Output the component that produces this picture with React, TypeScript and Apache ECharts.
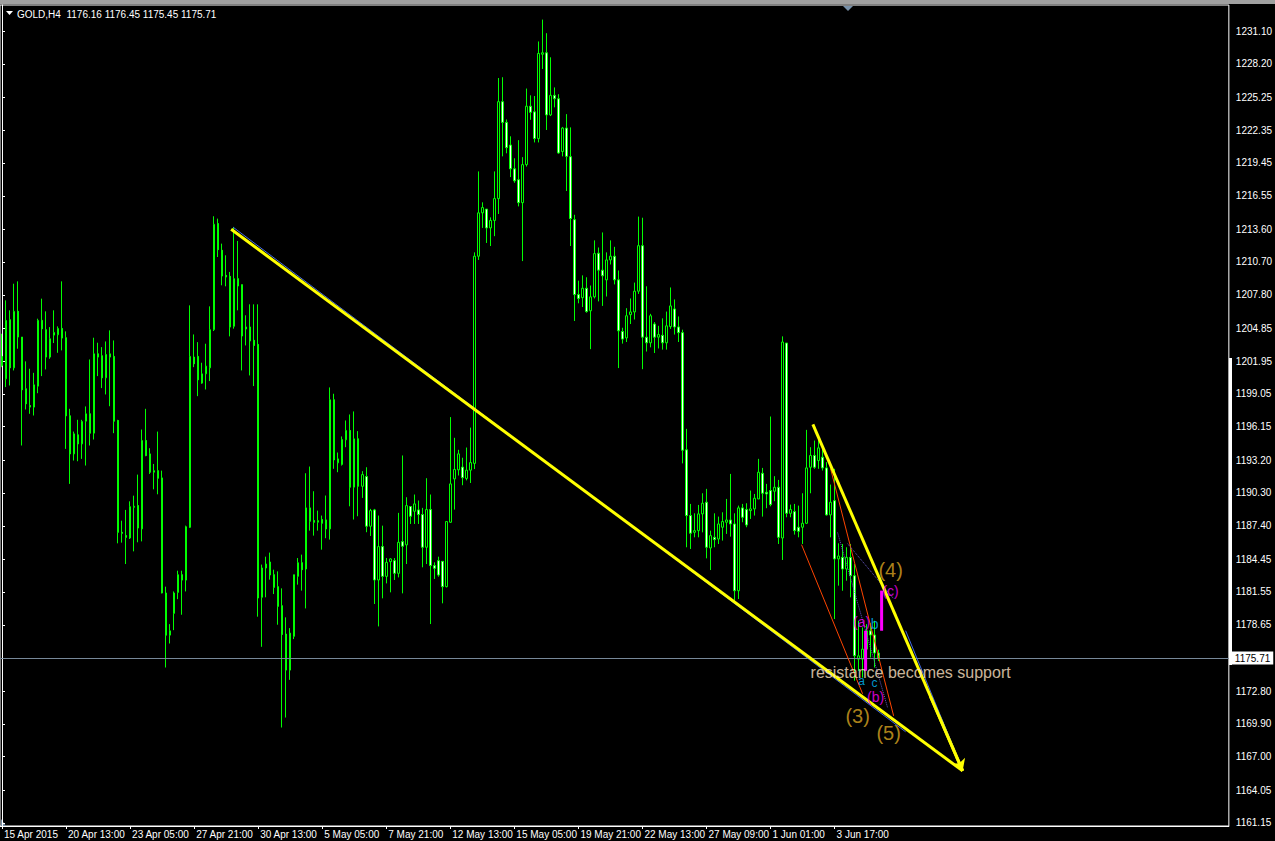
import React, { useEffect, useRef } from "react";
import * as echarts from "echarts";

// ---------- axes ----------
const SLOT_COUNT = 307; // bar slots across the visible window (4px each)
const X_TICK_INDEX = [0, 16, 32, 48, 64, 80, 96, 112, 128, 144, 160, 176, 192, 208];
const X_TICK_LABELS = [
  "15 Apr 2015", "20 Apr 13:00", "23 Apr 05:00", "27 Apr 21:00", "30 Apr 13:00",
  "5 May 05:00", "7 May 21:00", "12 May 13:00", "15 May 05:00", "19 May 21:00",
  "22 May 13:00", "27 May 09:00", "1 Jun 01:00", "3 Jun 17:00",
];
const Y_TICKS = [
  1231.10, 1228.20, 1225.25, 1222.35, 1219.45, 1216.55, 1213.60, 1210.70, 1207.80,
  1204.85, 1201.95, 1199.05, 1196.15, 1193.20, 1190.30, 1187.40, 1184.45, 1181.55,
  1178.65, 1172.80, 1169.90, 1167.00, 1164.05, 1161.15,
];
const Y_MIN = 1160.88;
const Y_MAX = 1233.4;
const LAST_PRICE = 1175.71;
const HEADER_TEXT = "GOLD,H4  1176.16 1176.45 1175.45 1175.71";

// ---------- H4 candles ----------
const OPEN = [
  1202.36, 1200.38, 1205.60, 1201.35, 1206.34, 1204.07, 1199.50, 1198.02, 1197.88, 1199.73,
  1205.54, 1204.72, 1202.30, 1204.24, 1204.27, 1204.83, 1204.01, 1197.11, 1193.75, 1195.43,
  1194.63, 1196.64, 1197.29, 1195.58, 1202.59, 1202.42, 1200.47, 1202.30, 1202.36, 1196.70,
  1186.82, 1186.53, 1186.32, 1189.03, 1189.18, 1187.12, 1194.93, 1193.75, 1192.13, 1192.27,
  1191.63, 1181.46, 1177.74, 1179.66, 1181.51, 1183.08, 1182.60, 1187.26, 1202.30, 1202.36,
  1200.00, 1200.82, 1201.35, 1204.72, 1214.09, 1211.73, 1209.52, 1209.43, 1205.02, 1209.23,
  1208.70, 1204.78, 1204.96, 1203.78, 1203.42, 1181.08, 1183.67, 1184.20, 1183.08, 1182.02,
  1180.34, 1177.83, 1174.65, 1177.63, 1182.93, 1184.14, 1183.58, 1188.98, 1187.86, 1187.71,
  1187.95, 1187.92, 1187.12, 1198.53, 1192.96, 1192.81, 1194.99, 1195.82, 1190.81, 1195.08,
  1190.89, 1191.75, 1187.36, 1188.80, 1182.61, 1185.56, 1182.93, 1184.23, 1184.32, 1183.20,
  1186.00, 1185.71, 1189.10, 1188.68, 1188.80, 1188.39, 1185.50, 1188.83, 1183.88, 1184.32,
  1184.26, 1182.02, 1187.71, 1191.54, 1192.34, 1192.58, 1191.58, 1192.31, 1192.91, 1211.21,
  1215.04, 1215.37, 1213.71, 1214.37, 1216.30, 1224.86, 1223.03, 1221.03, 1218.93, 1217.97,
  1215.94, 1219.30, 1224.46, 1223.96, 1221.60, 1229.05, 1229.18, 1223.69, 1225.42, 1225.12,
  1220.46, 1222.53, 1220.00, 1214.44, 1207.82, 1207.55, 1208.38, 1206.39, 1207.62, 1211.48,
  1209.98, 1209.12, 1210.88, 1211.21, 1209.12, 1204.56, 1203.99, 1206.05, 1206.29, 1208.12,
  1212.14, 1204.06, 1203.56, 1205.22, 1204.06, 1204.22, 1203.56, 1204.99, 1206.55, 1204.96,
  1204.46, 1194.11, 1188.30, 1186.82, 1186.97, 1188.45, 1189.48, 1185.44, 1186.38, 1186.23,
  1187.27, 1187.71, 1187.91, 1187.56, 1181.66, 1188.98, 1188.83, 1188.74, 1188.89, 1189.77,
  1192.04, 1190.36, 1190.51, 1190.45, 1190.80, 1186.32, 1203.54, 1188.50, 1188.65, 1187.27,
  1187.27, 1187.62, 1192.57, 1193.61, 1193.16, 1193.46, 1192.51, 1188.36, 1189.62, 1184.47,
  1184.61, 1183.58, 1184.61, 1182.99, 1175.62, 1175.62, 1176.50, 1178.12, 1177.75, 1176.16,
];
const CLOSE = [
  1201.56, 1205.54, 1201.35, 1206.34, 1204.07, 1199.41, 1198.17, 1197.88, 1199.85, 1205.54,
  1204.80, 1202.30, 1203.92, 1204.48, 1204.83, 1203.98, 1197.11, 1193.75, 1195.52, 1194.63,
  1196.61, 1197.29, 1195.58, 1202.59, 1202.30, 1200.47, 1202.53, 1202.59, 1196.64, 1186.82,
  1186.73, 1186.38, 1189.09, 1189.12, 1187.20, 1194.93, 1193.60, 1192.13, 1192.27, 1191.60,
  1181.46, 1177.74, 1178.12, 1181.46, 1183.08, 1182.60, 1187.32, 1202.36, 1201.71, 1200.29,
  1200.82, 1201.50, 1204.72, 1214.03, 1211.79, 1209.46, 1209.37, 1204.95, 1209.23, 1208.58,
  1204.16, 1204.96, 1203.72, 1203.33, 1181.02, 1183.67, 1184.02, 1183.05, 1181.96, 1180.28,
  1177.80, 1174.65, 1177.92, 1183.08, 1184.14, 1183.52, 1188.98, 1187.80, 1187.71, 1187.86,
  1187.62, 1187.12, 1198.53, 1193.22, 1193.31, 1195.02, 1195.82, 1190.81, 1195.08, 1190.89,
  1191.92, 1187.36, 1188.74, 1182.61, 1185.56, 1182.93, 1184.17, 1184.47, 1183.20, 1185.94,
  1185.59, 1189.18, 1188.24, 1189.33, 1188.39, 1185.50, 1188.83, 1183.88, 1183.64, 1183.05,
  1182.02, 1187.77, 1191.10, 1192.37, 1193.75, 1191.65, 1192.31, 1192.98, 1211.21, 1215.04,
  1215.51, 1213.71, 1214.37, 1216.30, 1224.86, 1223.03, 1220.80, 1218.93, 1217.87, 1215.94,
  1219.30, 1224.46, 1223.92, 1221.60, 1229.12, 1229.18, 1223.69, 1225.42, 1225.12, 1220.33,
  1222.53, 1220.03, 1214.54, 1207.82, 1207.48, 1208.38, 1206.32, 1207.62, 1211.44, 1209.98,
  1209.48, 1210.88, 1211.21, 1209.12, 1204.62, 1203.89, 1205.95, 1206.29, 1208.12, 1212.14,
  1204.06, 1203.56, 1205.95, 1204.06, 1204.29, 1203.56, 1205.06, 1206.82, 1204.96, 1204.46,
  1194.07, 1188.30, 1186.74, 1186.97, 1188.45, 1189.39, 1185.50, 1186.53, 1186.17, 1187.56,
  1187.77, 1187.91, 1187.56, 1181.66, 1188.98, 1188.15, 1187.47, 1188.89, 1189.83, 1192.13,
  1190.27, 1190.21, 1189.27, 1190.80, 1186.38, 1203.63, 1188.50, 1188.83, 1186.97, 1186.91,
  1187.62, 1192.51, 1193.61, 1192.57, 1194.28, 1192.51, 1188.36, 1189.48, 1184.47, 1184.73,
  1183.58, 1184.61, 1182.99, 1175.92, 1175.91, 1176.50, 1178.12, 1177.75, 1176.16, 1175.71,
];
const LOW = [
  1201.41, 1199.65, 1199.79, 1201.12, 1203.04, 1194.49, 1197.67, 1197.29, 1197.14, 1199.11,
  1200.62, 1201.21, 1202.15, 1203.54, 1202.68, 1202.89, 1194.19, 1191.10, 1193.16, 1193.10,
  1193.31, 1192.72, 1194.49, 1195.02, 1200.62, 1199.56, 1199.00, 1197.96, 1195.58, 1185.85,
  1185.91, 1184.02, 1186.23, 1185.14, 1185.94, 1186.02, 1193.54, 1191.98, 1190.62, 1190.18,
  1181.43, 1174.88, 1177.00, 1178.18, 1180.92, 1179.54, 1181.60, 1187.20, 1201.41, 1198.85,
  1199.94, 1199.44, 1200.18, 1204.60, 1211.14, 1208.64, 1208.55, 1204.13, 1204.81, 1206.43,
  1201.12, 1203.33, 1200.68, 1199.74, 1179.37, 1176.71, 1181.08, 1182.64, 1181.37, 1178.66,
  1169.58, 1170.46, 1173.79, 1177.39, 1182.20, 1181.67, 1180.10, 1186.97, 1186.53, 1186.97,
  1185.29, 1186.30, 1186.18, 1192.43, 1192.13, 1192.72, 1194.34, 1189.12, 1187.95, 1188.24,
  1189.86, 1186.83, 1186.50, 1180.49, 1178.51, 1180.99, 1182.31, 1181.52, 1182.61, 1182.84,
  1181.43, 1184.02, 1187.56, 1187.56, 1187.56, 1183.73, 1184.02, 1178.72, 1182.70, 1182.90,
  1180.55, 1181.96, 1187.65, 1188.83, 1191.84, 1190.98, 1191.41, 1191.18, 1192.41, 1210.88,
  1213.71, 1212.38, 1212.11, 1212.98, 1214.94, 1220.03, 1220.30, 1218.20, 1217.70, 1215.61,
  1210.78, 1219.13, 1223.26, 1221.26, 1221.26, 1227.75, 1222.36, 1223.59, 1224.36, 1220.26,
  1220.03, 1216.97, 1212.11, 1205.49, 1207.05, 1206.72, 1206.22, 1203.00, 1207.48, 1207.22,
  1206.82, 1207.65, 1210.48, 1208.72, 1201.33, 1203.49, 1203.63, 1205.22, 1205.62, 1207.88,
  1201.23, 1202.79, 1203.16, 1202.66, 1203.06, 1202.96, 1202.96, 1204.79, 1204.29, 1203.63,
  1192.91, 1185.50, 1185.35, 1186.38, 1186.38, 1186.82, 1184.52, 1183.49, 1185.50, 1185.79,
  1186.09, 1186.68, 1186.44, 1180.78, 1180.93, 1187.71, 1187.27, 1188.00, 1188.30, 1189.77,
  1188.21, 1188.95, 1189.12, 1189.57, 1185.79, 1184.38, 1188.15, 1188.15, 1186.62, 1186.38,
  1185.79, 1187.56, 1190.27, 1192.43, 1192.43, 1192.28, 1188.30, 1186.38, 1179.16, 1182.11,
  1181.66, 1182.55, 1181.08, 1173.71, 1174.58, 1173.99, 1175.91, 1175.76, 1174.88, 1175.45,
];
const HIGH = [
  1204.36, 1207.31, 1206.43, 1208.78, 1208.99, 1204.07, 1201.92, 1201.27, 1200.91, 1205.69,
  1207.46, 1206.34, 1204.95, 1206.43, 1205.01, 1208.99, 1204.57, 1197.73, 1195.72, 1196.76,
  1196.76, 1197.94, 1202.09, 1204.01, 1203.57, 1203.18, 1203.68, 1204.66, 1203.77, 1196.76,
  1187.85, 1188.80, 1189.56, 1190.06, 1191.92, 1195.90, 1197.73, 1194.25, 1192.86, 1195.72,
  1192.27, 1182.02, 1178.71, 1181.60, 1183.43, 1183.43, 1187.41, 1206.87, 1204.30, 1203.62,
  1201.80, 1203.48, 1206.78, 1214.74, 1214.53, 1212.32, 1211.29, 1209.82, 1213.80, 1212.56,
  1208.70, 1205.99, 1206.96, 1206.96, 1206.96, 1183.97, 1184.67, 1185.03, 1183.52, 1183.37,
  1181.87, 1179.31, 1178.36, 1183.08, 1184.55, 1184.85, 1192.04, 1192.63, 1190.45, 1188.74,
  1188.30, 1190.07, 1199.62, 1199.06, 1193.87, 1195.29, 1196.70, 1197.23, 1197.50, 1195.76,
  1192.22, 1192.57, 1188.89, 1188.89, 1188.30, 1187.41, 1184.55, 1184.53, 1184.55, 1188.54,
  1193.61, 1189.92, 1189.10, 1190.16, 1189.63, 1188.98, 1191.60, 1190.16, 1184.17, 1184.67,
  1184.26, 1187.77, 1197.00, 1195.17, 1194.11, 1193.41, 1194.31, 1196.07, 1211.55, 1218.70,
  1215.97, 1215.37, 1214.64, 1218.70, 1226.95, 1227.02, 1223.29, 1221.80, 1219.86, 1221.46,
  1219.96, 1226.02, 1225.42, 1225.36, 1230.18, 1232.11, 1230.91, 1228.78, 1226.12, 1225.52,
  1222.63, 1223.76, 1222.59, 1214.87, 1209.05, 1209.52, 1209.35, 1208.62, 1212.61, 1211.98,
  1213.31, 1211.55, 1212.61, 1212.04, 1209.95, 1204.89, 1206.62, 1207.48, 1208.88, 1214.71,
  1214.61, 1208.55, 1206.12, 1205.39, 1205.06, 1205.72, 1206.32, 1208.45, 1207.39, 1205.89,
  1204.72, 1195.96, 1189.33, 1188.50, 1189.24, 1190.27, 1190.66, 1186.97, 1188.50, 1188.21,
  1188.59, 1189.77, 1191.98, 1188.50, 1189.18, 1189.33, 1189.39, 1190.51, 1190.21, 1193.31,
  1192.51, 1191.10, 1197.05, 1191.78, 1191.45, 1204.13, 1203.54, 1189.27, 1189.33, 1189.18,
  1190.27, 1195.87, 1194.34, 1194.93, 1195.08, 1194.49, 1193.02, 1191.04, 1192.43, 1185.85,
  1185.79, 1185.50, 1185.79, 1184.02, 1179.01, 1178.42, 1178.71, 1178.80, 1179.01, 1176.45,
];

// ---------- drawn objects (bar index, price) ----------
const LINE_NAMES = ["blueA", "blueB", "redR1", "redR2", "dotD1", "dotD2", "yellowA", "yellowB"];
const LINE_FROM = [
  [57.75, 1213.77], [225.75, 1178.13], [199.75, 1185.73], [207, 1192.45],
  [208.75, 1186.8], [211.25, 1185.82], [57.25, 1213.59], [202.58, 1196.35],
];
const LINE_TO = [
  [225.75, 1169.2], [238.25, 1167.34], [215, 1172.56], [222.75, 1170.61],
  [221.25, 1171.32], [222.75, 1180.96], [240, 1165.75], [240, 1165.75],
];
const LINE_COLORS = ["#4169E1", "#4169E1", "#FF4500", "#FF4500", "#6A5ACD", "#6A5ACD", "#FFFF00", "#FFFF00"];
const LINE_WIDTHS = [1, 1, 1, 1, 1, 1, 3, 3];
const LINE_TYPES = ["solid", "solid", "solid", "solid", "dotted", "dotted", "solid", "solid"];
const ARROW_FROM = [232, 1172.3];
const ARROW_TO = [240, 1165.75];

const BAR_X = [215.75, 219.75];
const BAR_TOP = [1178.13, 1181.67];
const BAR_BOTTOM = [1174.59, 1178.13];

const LABEL_TEXTS = ["(4)", "(c)", "(a)", "b", "a", "c", "(b)", "(3)", "(5)", "resistance becomes support"];
const LABEL_X = [222, 222, 214.75, 218, 214.75, 218, 218.25, 213.75, 221.5, 227];
const LABEL_Y = [1183.45, 1181.6, 1178.92, 1178.74, 1173.7, 1173.55, 1172.3, 1170.6, 1169.11, 1174.45];
const LABEL_COLORS = ["#DAA520", "#FF00FF", "#FF00FF", "#00BFFF", "#00BFFF", "#00BFFF", "#FF00FF", "#DAA520", "#DAA520", "#FFE4C4"];
const LABEL_SIZES = [20, 14, 14, 14, 12, 12, 14, 20, 20, 16];

const FONT = "'Liberation Sans', Arial, sans-serif";

export default function App() {
  const ref = useRef<HTMLDivElement>(null);

  useEffect(() => {
    if (!ref.current) return;
    const chart = echarts.init(ref.current, null, { renderer: "svg" });

    const slots = Array.from({ length: SLOT_COUNT }, (_, i) => String(i));
    const tickMap: Record<number, string> = {};
    X_TICK_INDEX.forEach((idx, k) => {
      tickMap[idx] = X_TICK_LABELS[k];
    });
    const isTick = (index: number) => tickMap[index] !== undefined;

    const candles = OPEN.map((o, i) => {
      const c = CLOSE[i];
      return [o, c, Math.min(LOW[i], o, c), Math.max(HIGH[i], o, c)];
    });

    const lineSeries = LINE_NAMES.map((name, i) => ({
      name,
      type: "line",
      xAxisIndex: 1,
      yAxisIndex: 0,
      data: [LINE_FROM[i], LINE_TO[i]],
      symbol: "none",
      silent: true,
      z: 5,
      lineStyle: { color: LINE_COLORS[i], width: LINE_WIDTHS[i], type: LINE_TYPES[i] },
    }));

    const barSeries = BAR_X.map((x, i) => ({
      type: "line",
      xAxisIndex: 1,
      yAxisIndex: 0,
      data: [
        [x, BAR_TOP[i]],
        [x, BAR_BOTTOM[i]],
      ],
      symbol: "none",
      silent: true,
      z: 6,
      lineStyle: { color: "#FF00FF", width: 3 },
    }));

    const option: any = {
      animation: false,
      backgroundColor: "#000",
      grid: {
        left: 0,
        right: 46,
        top: 5,
        bottom: 15,
        show: true,
        borderColor: "#fff",
        borderWidth: 1,
        backgroundColor: "#000",
      },
      xAxis: [
        {
          type: "category",
          data: slots,
          boundaryGap: true,
          axisLine: { show: true, lineStyle: { color: "#fff", width: 1 } },
          axisTick: {
            show: true,
            interval: (index: number) => isTick(index),
            alignWithLabel: true,
            length: 3,
            lineStyle: { color: "#fff" },
          },
          axisLabel: {
            interval: (index: number) => isTick(index),
            formatter: (_v: string, index: number) => tickMap[index] ?? "",
            color: "#fff",
            fontSize: 10,
            fontFamily: FONT,
            align: "left",
            margin: 3,
            padding: [0, 0, 0, 2],
          },
          splitLine: { show: false },
        },
        {
          type: "value",
          min: -0.5,
          max: SLOT_COUNT - 0.5,
          show: false,
          splitLine: { show: false },
        },
      ],
      yAxis: {
        type: "value",
        position: "right",
        min: Y_MIN,
        max: Y_MAX,
        scale: true,
        axisLine: { show: true, lineStyle: { color: "#fff", width: 1 } },
        axisTick: {
          show: true,
          length: 3,
          customValues: Y_TICKS,
          lineStyle: { color: "#fff" },
        },
        axisLabel: {
          customValues: Y_TICKS,
          formatter: (v: number) => v.toFixed(2),
          color: "#fff",
          fontSize: 10,
          fontFamily: FONT,
          margin: 7,
        },
        splitLine: { show: false },
      },
      graphic: [
        { type: "rect", shape: { x: 0, y: 0, width: 1275, height: 4 }, style: { fill: "#a0a0a0" }, silent: true },
        { type: "polygon", shape: { points: [[6, 11], [13, 11], [9.5, 15]] }, style: { fill: "#fff" }, silent: true },
        {
          type: "text",
          x: 17,
          y: 14,
          style: { text: HEADER_TEXT, fill: "#fff", font: `10px ${FONT}`, textVerticalAlign: "middle" },
          silent: true,
        },
        { type: "polygon", shape: { points: [[843, 6], [853, 6], [848, 11]] }, style: { fill: "#7890a8" }, silent: true },
        { type: "polygon", shape: { points: [[1, 819], [1, 826], [6, 826]] }, style: { fill: "#7890a8" }, silent: true },
        { type: "rect", shape: { x: 1229, y: 358, width: 3, height: 307 }, style: { fill: "#fff" }, silent: true, z: 10 },
      ],
      series: [
        {
          type: "candlestick",
          xAxisIndex: 0,
          yAxisIndex: 0,
          data: candles,
          barWidth: 2,
          silent: true,
          itemStyle: {
            color: "#000",
            color0: "#fff",
            borderColor: "#00FF00",
            borderColor0: "#00FF00",
            borderWidth: 1,
          },
          markLine: {
            silent: true,
            symbol: ["none", "none"],
            lineStyle: { color: "#778899", width: 1, type: "solid" },
            label: {
              show: true,
              position: "end",
              distance: 3,
              formatter: LAST_PRICE.toFixed(2),
              backgroundColor: "#fff",
              color: "#000",
              padding: [2, 3, 1, 3],
              fontSize: 10,
              fontFamily: FONT,
            },
            data: [{ yAxis: LAST_PRICE }],
          },
        },
        ...lineSeries,
        ...barSeries,
        {
          type: "line",
          xAxisIndex: 1,
          yAxisIndex: 0,
          data: [],
          silent: true,
          markLine: {
            silent: true,
            symbol: ["none", "arrow"],
            symbolSize: 11,
            lineStyle: { color: "#FFFF00", width: 3, type: "solid" },
            label: { show: false },
            data: [[{ coord: ARROW_FROM }, { coord: ARROW_TO }]],
          },
        },
        {
          type: "scatter",
          xAxisIndex: 1,
          yAxisIndex: 0,
          silent: true,
          symbolSize: 1,
          itemStyle: { color: "rgba(0,0,0,0)" },
          z: 8,
          data: LABEL_TEXTS.map((t, i) => ({
            value: [LABEL_X[i], LABEL_Y[i]],
            label: {
              show: true,
              position: "inside",
              formatter: t,
              color: LABEL_COLORS[i],
              fontSize: LABEL_SIZES[i],
              fontFamily: FONT,
            },
          })),
        },
      ],
    };

    chart.setOption(option);
    return () => chart.dispose();
  }, []);

  return (
    <div
      ref={ref}
      style={{ position: "absolute", left: 0, top: 0, width: 1275, height: 841, background: "#000" }}
    />
  );
}
